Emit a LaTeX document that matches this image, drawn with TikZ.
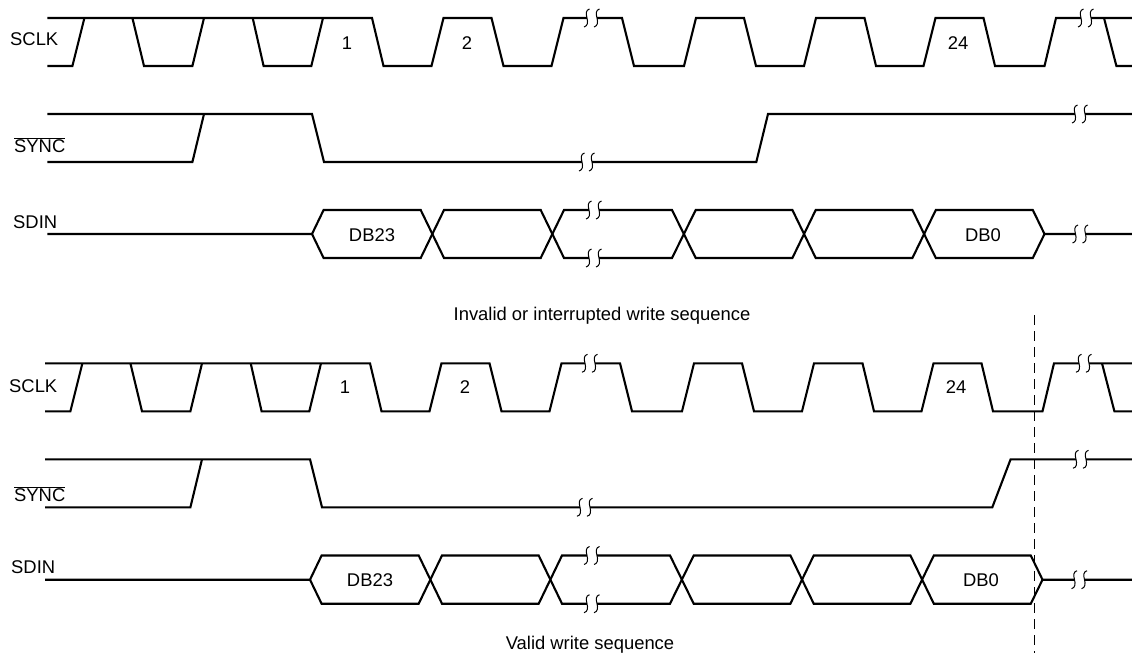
\documentclass[tikz,border=0pt]{standalone}
\usepackage{fontspec}
\setmainfont{Liberation Sans}
\tikzset{
wave/.style={line width=2.1pt, line join=miter}, % the signal traces
cut/.style={line width=1pt}, % the two strokes of a time break
lbl/.style={font=\fontsize{18.4}{20}\selectfont, inner sep=0pt}, % every text in the picture
brk/.pic={
  \fill[white] (-5,-5) rectangle (5,5);
  \draw[cut] (-2.5,-9) .. controls (-6.5,-8) and (-6,-4) .. (-5,0) .. controls (-4,4) and (-4,8) .. (-8,9);
  \draw[cut] (7.5,-9) .. controls (3.5,-8) and (4,-4) .. (5,0) .. controls (6,4) and (6,8) .. (2,9);
},
}

\begin{document}
\begin{tikzpicture}[x=1pt, y=-1pt]
  \useasboundingbox (0,0) rectangle (1132,653);

  % Invalid sequence: labels
  \node[lbl, anchor=west] (sclka) at (10,39) {SCLK};
  \node[lbl, anchor=west] (synca) at (14,145) {$\overline{\mbox{SYNC}}$};
  \node[lbl, anchor=west] (sdina) at (13,222) {SDIN};
  \node[lbl] (onea) at (347,43) {1};
  \node[lbl] (twoa) at (467,43) {2};
  \node[lbl] (lasta) at (958,43) {24};
  \node[lbl] (dbhia) at (372,235) {DB23};
  \node[lbl] (dbloa) at (983,235) {DB0};
  \node[lbl] (titlea) at (602,316) {Invalid or interrupted write sequence};

  % Invalid sequence: clock
  \draw[wave] (47.3,18) -- (372,18) -- (383.5,66) -- (431.5,66) -- (443.5,18) -- (491.5,18) -- (503.5,66) -- (551.5,66) -- (563.5,18) -- (622,18) -- (634,66) -- (684,66) -- (696,18) -- (744,18) -- (756,66) -- (804,66) -- (816,18) -- (864.5,18) -- (876,66) -- (923.5,66) -- (935.5,18) -- (983.5,18) -- (995,66) -- (1044.5,66) -- (1056,18) -- (1132,18);
  \draw[wave] (47.3,66) -- (72.4,66) -- (84.4,18);
  \draw[wave] (132.4,18) -- (144,66) -- (192.4,66) -- (204,18);
  \draw[wave] (252.7,18) -- (263.6,66) -- (311.3,66) -- (323,18);
  \draw[wave] (1104,18) -- (1116.4,66) -- (1132,66);
  \pic at (592,18) {brk};
  \pic at (1086,18) {brk};

  % Invalid sequence: sync
  \draw[wave] (47.3,114) -- (312,114) -- (324,162) -- (756.3,162) -- (768,114) -- (1132,114);
  \draw[wave] (47.3,162) -- (192.4,162) -- (204,114);
  \pic at (587,162) {brk};
  \pic at (1080,114) {brk};

  % Invalid sequence: data
  \draw[wave] (47.3,234) -- (312,234) -- (323.6,210) -- (420.7,210) -- (444,258) -- (540.7,258) -- (564,210) -- (672,210) -- (695.7,258) -- (792.4,258) -- (815.7,210) -- (912.4,210) -- (935.8,258) -- (1032.8,258) -- (1044.5,234) -- (1132,234);
  \draw[wave] (312,234) -- (323.6,258) -- (420.7,258) -- (444,210) -- (540.7,210) -- (564,258) -- (672,258) -- (695.7,210) -- (792.4,210) -- (815.7,258) -- (912.4,258) -- (935.8,210) -- (1032.8,210) -- (1044.5,234);
  \pic at (594,210) {brk};
  \pic at (594,258) {brk};
  \pic at (1080.5,234) {brk};

  % Valid sequence: labels
  \node[lbl, anchor=west] (sclkb) at (9,386) {SCLK};
  \node[lbl, anchor=west] (syncb) at (14,494) {$\overline{\mbox{SYNC}}$};
  \node[lbl, anchor=west] (sdinb) at (11,567) {SDIN};
  \node[lbl] (oneb) at (345,387) {1};
  \node[lbl] (twob) at (465,387) {2};
  \node[lbl] (lastb) at (956,387) {24};
  \node[lbl] (dbhib) at (370,580) {DB23};
  \node[lbl] (dblob) at (981,580) {DB0};
  \node[lbl] (titleb) at (590,644.5) {Valid write sequence};

  % Valid sequence: clock
  \draw[wave] (45,363.3) -- (370,363.3) -- (381.5,411.3) -- (429.5,411.3) -- (441.5,363.3) -- (489.5,363.3) -- (501.5,411.3) -- (549.5,411.3) -- (561.5,363.3) -- (620,363.3) -- (632,411.3) -- (682,411.3) -- (694,363.3) -- (742,363.3) -- (754,411.3) -- (802,411.3) -- (814,363.3) -- (862.5,363.3) -- (874,411.3) -- (921.5,411.3) -- (933.5,363.3) -- (981.5,363.3) -- (993,411.3) -- (1042.5,411.3) -- (1054,363.3) -- (1132,363.3);
  \draw[wave] (45,411.3) -- (70.4,411.3) -- (82.4,363.3);
  \draw[wave] (130.4,363.3) -- (142,411.3) -- (190.4,411.3) -- (202,363.3);
  \draw[wave] (250.7,363.3) -- (261.6,411.3) -- (309.3,411.3) -- (321,363.3);
  \draw[wave] (1102,363.3) -- (1114.4,411.3) -- (1132,411.3);
  \pic at (590,363.3) {brk};
  \pic at (1084,363.3) {brk};

  % Valid sequence: sync
  \draw[wave] (45,459.3) -- (310,459.3) -- (322,507.3) -- (992.3,507.3) -- (1010.6,459.3) -- (1132,459.3);
  \draw[wave] (45,507.3) -- (190.4,507.3) -- (202,459.3);
  \pic at (585,507.3) {brk};
  \pic at (1081,459.3) {brk};

  % Valid sequence: data
  \draw[wave] (45,579.7) -- (310,579.7) -- (321.6,555.5) -- (418.7,555.5) -- (442,603.7) -- (538.7,603.7) -- (562,555.5) -- (670,555.5) -- (693.7,603.7) -- (790.4,603.7) -- (813.7,555.5) -- (910.4,555.5) -- (933.8,603.7) -- (1030.8,603.7) -- (1042.5,579.7) -- (1132,579.7);
  \draw[wave] (310,579.7) -- (321.6,603.7) -- (418.7,603.7) -- (442,555.5) -- (538.7,555.5) -- (562,603.7) -- (670,603.7) -- (693.7,555.5) -- (790.4,555.5) -- (813.7,603.7) -- (910.4,603.7) -- (933.8,555.5) -- (1030.8,555.5) -- (1042.5,579.7);
  \pic at (592,555.5) {brk};
  \pic at (592,603.7) {brk};
  \pic at (1079.5,579.7) {brk};

  % Marker
  \coordinate (marktop) at (1034.6,315);
  \coordinate (markbot) at (1034.6,653);
  \draw[line width=0.9pt, dash pattern=on 10pt off 6pt] (marktop) -- (markbot);
\end{tikzpicture}
\end{document}
